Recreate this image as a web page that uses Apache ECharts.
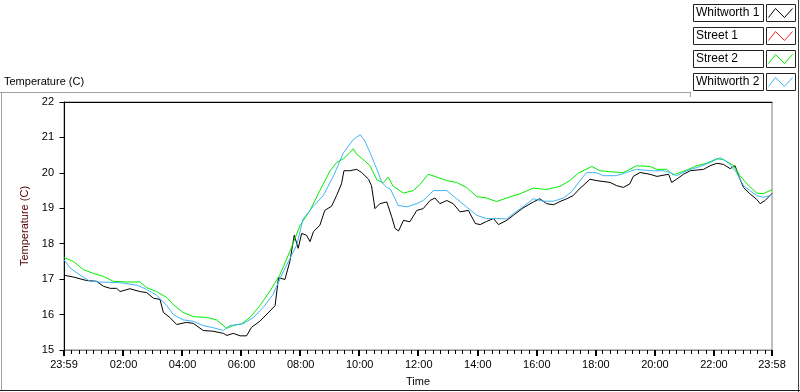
<!DOCTYPE html>
<html>
<head>
<meta charset="utf-8">
<script src="https://cdn.jsdelivr.net/npm/echarts@6/dist/echarts.min.js"></script>
<style>
  html, body { margin: 0; padding: 0; background: #fff; }
  #main { width: 800px; height: 392px; }
</style>
</head>
<body>
<div id="main"></div>
<script>
// time in minutes after midnight (23:59 of the previous day = -1), temperature in C
var whitworth1 = [
    [-1,17.11],[18,17.06],[45,16.96],[65,16.94],[79,16.80],[93,16.74],[106,16.74],[113,16.65],
    [133,16.73],[153,16.65],[167,16.62],[181,16.46],[194,16.43],[201,16.06],[214,15.92],[228,15.72],
    [248,15.78],[262,15.75],[282,15.55],[302,15.53],[323,15.47],[330,15.41],[343,15.47],[357,15.40],
    [370,15.40],[380,15.64],[397,15.81],[428,16.25],[435,17.04],[448,16.99],[458,17.50],[467,18.24],
    [475,17.87],[482,18.29],[492,18.24],[499,18.06],[506,18.34],[519,18.52],[529,18.94],[543,19.06],
    [553,19.36],[563,19.69],[568,20.06],[580,20.06],[594,20.10],[604,20.01],[618,19.82],[624,19.64],
    [631,18.99],[641,19.13],[655,19.18],[665,18.76],[672,18.43],[679,18.36],[689,18.66],[702,18.62],
    [716,18.94],[729,18.99],[743,19.22],[753,19.29],[763,19.13],[777,19.22],[790,19.13],[804,18.90],
    [821,18.94],[835,18.57],[845,18.54],[858,18.63],[872,18.71],[882,18.54],[899,18.66],[912,18.80],
    [932,19.01],[953,19.18],[966,19.27],[980,19.13],[994,19.10],[1007,19.19],[1021,19.27],[1034,19.36],
    [1048,19.57],[1054,19.64],[1068,19.82],[1082,19.78],[1109,19.73],[1122,19.64],[1136,19.59],[1149,19.69],
    [1156,19.90],[1170,20.01],[1190,19.96],[1204,19.90],[1228,19.96],[1234,19.73],[1244,19.82],[1258,19.96],
    [1272,20.06],[1299,20.10],[1312,20.20],[1326,20.27],[1339,20.24],[1353,20.12],[1363,20.20],[1370,19.92],
    [1380,19.59],[1393,19.41],[1407,19.25],[1414,19.13],[1424,19.22],[1434,19.36],[1438,19.42]
];
var street1 = [];
var street2 = [
    [-1,17.61],[18,17.50],[38,17.27],[59,17.16],[79,17.08],[99,16.94],[126,16.92],[153,16.92],
    [167,16.76],[187,16.65],[208,16.48],[221,16.28],[241,16.06],[262,15.94],[289,15.92],[309,15.85],
    [330,15.61],[343,15.69],[360,15.74],[377,15.92],[391,16.15],[397,16.25],[418,16.67],[438,17.13],
    [458,17.78],[479,18.52],[499,18.94],[519,19.50],[540,20.06],[553,20.29],[567,20.40],[580,20.57],
    [587,20.68],[594,20.52],[607,20.38],[621,20.20],[635,19.80],[648,19.72],[658,19.88],[668,19.62],
    [689,19.43],[709,19.50],[723,19.68],[739,19.96],[753,19.90],[777,19.78],[797,19.73],[817,19.59],
    [838,19.33],[858,19.29],[878,19.19],[899,19.29],[926,19.41],[953,19.57],[980,19.53],[1007,19.62],
    [1027,19.78],[1044,19.99],[1054,20.06],[1072,20.18],[1088,20.06],[1109,20.03],[1136,20.01],[1163,20.20],
    [1190,20.18],[1204,20.10],[1224,20.10],[1237,19.94],[1251,20.01],[1265,20.08],[1285,20.20],[1305,20.27],
    [1326,20.40],[1339,20.37],[1359,20.22],[1373,19.92],[1387,19.69],[1407,19.43],[1420,19.41],[1434,19.50],
    [1438,19.52]
];
var whitworth2 = [
    [-1,17.55],[11,17.32],[32,17.11],[52,16.94],[72,16.92],[113,16.90],[147,16.83],[167,16.71],
    [187,16.55],[208,16.25],[221,16.00],[241,15.85],[262,15.81],[282,15.69],[302,15.63],[323,15.55],
    [336,15.69],[363,15.74],[384,15.92],[397,16.11],[404,16.20],[424,16.57],[445,17.22],[472,17.96],
    [485,18.70],[506,19.06],[526,19.36],[547,19.92],[567,20.57],[587,20.94],[601,21.08],[611,20.89],
    [624,20.47],[635,20.10],[645,19.73],[655,19.59],[662,19.55],[672,19.27],[678,19.08],[696,19.04],
    [716,19.13],[729,19.22],[750,19.50],[777,19.50],[797,19.27],[817,19.04],[838,18.80],[858,18.71],
    [878,18.71],[899,18.70],[912,18.85],[932,19.04],[953,19.27],[973,19.20],[994,19.20],[1014,19.29],
    [1031,19.47],[1044,19.71],[1061,20.01],[1082,20.00],[1095,19.92],[1122,19.92],[1142,20.01],[1163,20.10],
    [1190,20.06],[1217,20.06],[1231,20.01],[1244,19.92],[1265,20.06],[1292,20.18],[1312,20.29],[1333,20.43],
    [1349,20.29],[1366,20.01],[1380,19.64],[1393,19.50],[1407,19.36],[1420,19.31],[1434,19.36],[1438,19.40]
];

var seriesNames = ['Whitworth 1', 'Street 1', 'Street 2', 'Whitworth 2'];
var seriesColors = ['#000000', '#ff2020', '#00ee00', '#3fb6f5'];
var xTickValues = [-1, 120, 240, 360, 480, 600, 720, 840, 960, 1080, 1200, 1320, 1438];
var xTickLabels = ['23:59', '02:00', '04:00', '06:00', '08:00', '10:00', '12:00',
                   '14:00', '16:00', '18:00', '20:00', '22:00', '23:58'];

var font = 'Liberation Sans';
var myChart = echarts.init(document.getElementById('main'), null, {renderer: 'canvas'});

// legend boxes, drawn like the LabVIEW plot legend
var legendGraphics = [];
seriesNames.forEach(function (name, i) {
    var top = 4 + i * 23;
    legendGraphics.push({
        type: 'rect', shape: {x: 693.5, y: top + 0.5, width: 70, height: 17},
        style: {fill: '#fff', stroke: '#222', lineWidth: 1}
    });
    legendGraphics.push({
        type: 'text', x: 696, y: top + 9,
        style: {text: name, fill: '#000', font: '12px "' + font + '"', verticalAlign: 'middle'}
    });
    legendGraphics.push({
        type: 'rect', shape: {x: 766.5, y: top + 0.5, width: 29, height: 17},
        style: {fill: '#fff', stroke: '#222', lineWidth: 1}
    });
    legendGraphics.push({
        type: 'polyline',
        shape: {points: [[768.5, top + 13.5], [775.5, top + 4.5], [784.5, top + 13.5], [792.5, top + 4.5]]},
        style: {stroke: seriesColors[i], lineWidth: 1, fill: null}
    });
});

var frameGraphics = [
    {type: 'line', shape: {x1: 0, y1: 92.5, x2: 690, y2: 92.5}, style: {stroke: '#a0a0a0', lineWidth: 1}},
    {type: 'line', shape: {x1: 690.5, y1: 92, x2: 690.5, y2: 97}, style: {stroke: '#a0a0a0', lineWidth: 1}},
    {type: 'line', shape: {x1: 1.5, y1: 92, x2: 1.5, y2: 391}, style: {stroke: '#a0a0a0', lineWidth: 1}},
    {type: 'line', shape: {x1: 798.5, y1: 0, x2: 798.5, y2: 392}, style: {stroke: '#404040', lineWidth: 1}},
    {type: 'line', shape: {x1: 0, y1: 390.5, x2: 800, y2: 390.5}, style: {stroke: '#202020', lineWidth: 1}},
    {type: 'text', x: 4, y: 82,
     style: {text: 'Temperature (C)', fill: '#000', font: '11px "' + font + '"', verticalAlign: 'middle'}}
];

var dataSets = [whitworth1, street1, street2, whitworth2];

var option = {
    animation: false,
    backgroundColor: '#fff',
    grid: {
        left: 64, top: 102, right: 28, bottom: 39,
        show: true, borderColor: '#808080', borderWidth: 1, backgroundColor: '#fff'
    },
    xAxis: [
        {
            // data axis with the time labels
            type: 'value', min: -1, max: 1438, position: 'bottom',
            name: 'Time', nameLocation: 'middle', nameGap: 26,
            nameTextStyle: {color: '#000', fontFamily: font, fontSize: 11},
            axisLine: {show: true, lineStyle: {color: '#808080', width: 1}},
            axisTick: {show: false},
            axisLabel: {
                show: true, customValues: xTickValues, margin: 9,
                color: '#000', fontFamily: font, fontSize: 11,
                formatter: function (v) {
                    var k = xTickValues.indexOf(v);
                    return k >= 0 ? xTickLabels[k] : '';
                }
            },
            splitLine: {show: false}
        },
        {
            // 15 minute minor ticks
            type: 'value', min: 0, max: 1439, interval: 15, position: 'bottom',
            axisLine: {show: false},
            axisTick: {show: true, length: 4, lineStyle: {color: '#000', width: 1}},
            axisLabel: {show: false},
            splitLine: {show: false}
        },
        {
            // 2 hour major ticks
            type: 'value', min: 0, max: 1439, interval: 120, position: 'bottom',
            axisLine: {show: false},
            axisTick: {show: true, length: 6, lineStyle: {color: '#000', width: 2}},
            axisLabel: {show: false},
            splitLine: {show: false}
        },
        {
            type: 'value', min: -1, max: 1438, position: 'top',
            axisLine: {show: true, lineStyle: {color: '#000', width: 1}},
            axisTick: {show: false}, axisLabel: {show: false}, splitLine: {show: false}
        }
    ],
    yAxis: {
        type: 'value', min: 15, max: 22, interval: 1,
        name: 'Temperature (C)', nameLocation: 'middle', nameRotate: 90, nameGap: 32,
        nameTextStyle: {color: '#500000', fontFamily: font, fontSize: 11},
        axisLine: {show: true, lineStyle: {color: '#000', width: 1}},
        axisTick: {show: true, length: 5, lineStyle: {color: '#000', width: 1}},
        axisLabel: {color: '#000', fontFamily: font, fontSize: 11, margin: 10},
        splitLine: {show: false}
    },
    graphic: frameGraphics.concat(legendGraphics),
    series: seriesNames.map(function (name, i) {
        return {
            name: name, type: 'line', xAxisIndex: 0,
            data: dataSets[i], showSymbol: false, symbol: 'none',
            lineStyle: {color: seriesColors[i], width: 1},
            itemStyle: {color: seriesColors[i]}
        };
    })
};

myChart.setOption(option);
</script>
</body>
</html>
